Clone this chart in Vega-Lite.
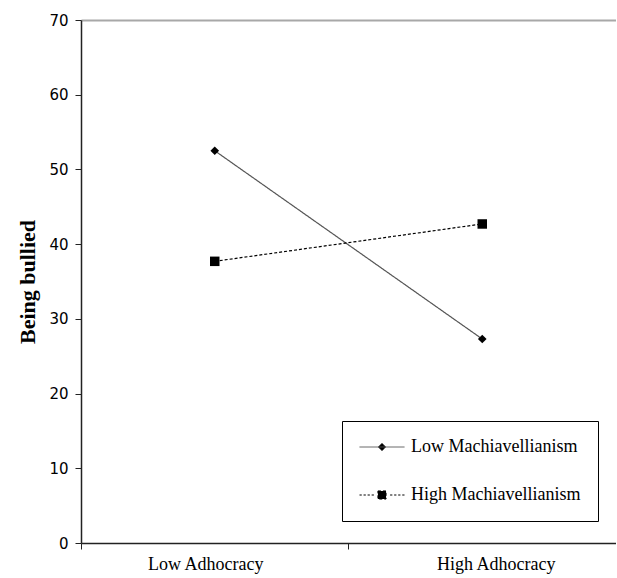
{
  "$schema": "https://vega.github.io/schema/vega-lite/v6.json",
  "autosize": "none",
  "padding": {"left": 81, "top": 20, "right": 0, "bottom": 35},
  "width": 535,
  "height": 523,
  "background": "white",
  "data": {
    "values": [
      {"adhocracy": "Low Adhocracy", "mach": "Low Machiavellianism", "bullied": 52.5},
      {"adhocracy": "High Adhocracy", "mach": "Low Machiavellianism", "bullied": 27.3},
      {"adhocracy": "Low Adhocracy", "mach": "High Machiavellianism", "bullied": 37.7},
      {"adhocracy": "High Adhocracy", "mach": "High Machiavellianism", "bullied": 42.7}
    ]
  },
  "config": {"view": {"stroke": null}},
  "encoding": {
    "x": {
      "field": "adhocracy",
      "type": "nominal",
      "sort": ["Low Adhocracy", "High Adhocracy"],
      "scale": {"type": "band", "paddingInner": 0, "paddingOuter": 0},
      "axis": {
        "title": null,
        "labelAngle": 0,
        "bandPosition": 0,
        "labelOffset": {"condition": {"test": "datum.value == 'Low Adhocracy'", "value": -9}, "value": 14},
        "labelFont": "Liberation Serif",
        "labelFontSize": 18,
        "labelColor": "#000000",
        "labelPadding": 6,
        "tickSize": 6,
        "tickColor": "#222222",
        "domainColor": "#222222",
        "domainWidth": 1.5,
        "grid": false
      }
    },
    "y": {
      "field": "bullied",
      "type": "quantitative",
      "scale": {"domain": [0, 70], "nice": false, "zero": true},
      "axis": {
        "title": "Being bullied",
        "titleFont": "Liberation Serif",
        "titleFontSize": 22,
        "titleFontWeight": "bold",
        "titleColor": "#000000",
        "titlePadding": 9,
        "values": [0, 10, 20, 30, 40, 50, 60, 70],
        "labelFont": "DejaVu Sans",
        "labelFontSize": 15,
        "labelColor": "#000000",
        "labelPadding": 7,
        "tickSize": 6,
        "tickColor": "#222222",
        "domainColor": "#222222",
        "domainWidth": 1.5,
        "grid": true,
        "gridWidth": 2,
        "gridColor": {"condition": {"test": "datum.value === 70", "value": "#a8a8a8"}, "value": "transparent"}
      }
    }
  },
  "layer": [
    {
      "mark": {"type": "line", "strokeWidth": 1.2},
      "encoding": {
        "color": {
          "field": "mach",
          "type": "nominal",
          "scale": {"domain": ["Low Machiavellianism", "High Machiavellianism"], "range": ["#555555", "#000000"]},
          "legend": {
            "title": null,
            "orient": "none",
            "legendX": 261,
            "legendY": 401,
            "strokeColor": "#000000",
            "fillColor": "white",
            "padding": 17,
            "rowPadding": 30,
            "clipHeight": 18,
            "symbolSize": 2025,
            "labelOffset": 6,
            "labelFont": "Liberation Serif",
            "labelFontSize": 18,
            "labelColor": "#000000",
            "labelLimit": 300,
            "encoding": {
              "symbols": {
                "shape": {"value": {"expr": "datum.value == 'Low Machiavellianism' ? 'M-1,0L1,0M-0.17,0L0,-0.17L0.17,0L0,0.17Z' : 'M-1,0H-0.9M-0.82,0H-0.72M-0.64,0H-0.54M-0.46,0H-0.36M-0.18,-0.18H0.18V0.18H-0.18ZM0.36,0H0.46M0.54,0H0.64M0.72,0H0.82M0.9,0H1'"}},
                "size": {"value": 2025},
                "fill": {"value": "#000000"},
                "stroke": {"value": "#000000"},
                "strokeWidth": {"value": 1},
                "strokeDash": {"value": [1, 0]},
                "opacity": {"value": 1}
              }
            }
          }
        },
        "strokeDash": {
          "field": "mach",
          "type": "nominal",
          "scale": {"domain": ["Low Machiavellianism", "High Machiavellianism"], "range": [[1, 0], [3, 2]]},
          "legend": null
        }
      }
    },
    {
      "transform": [{"filter": "datum.mach == 'Low Machiavellianism'"}],
      "mark": {"type": "point", "filled": true, "color": "#000000", "opacity": 1, "shape": "diamond", "size": 75}
    },
    {
      "transform": [{"filter": "datum.mach == 'High Machiavellianism'"}],
      "mark": {"type": "point", "filled": true, "color": "#000000", "opacity": 1, "shape": "square", "size": 90}
    }
  ]
}
